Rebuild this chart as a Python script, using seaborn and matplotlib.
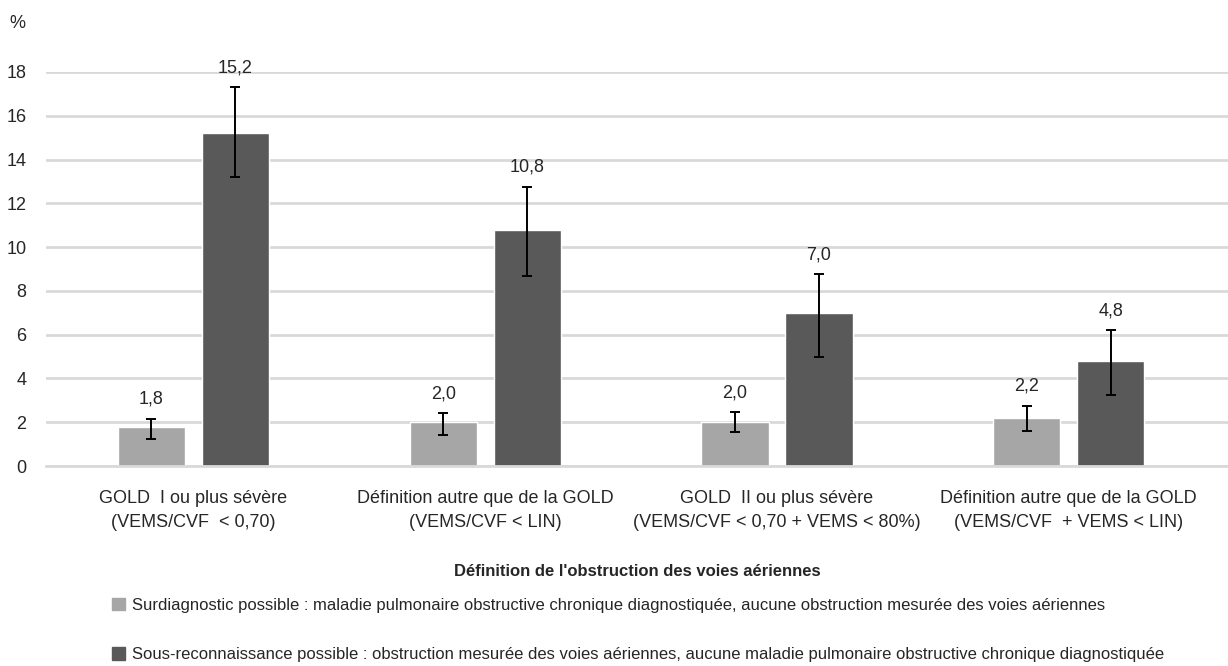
import pandas as pd
import matplotlib.pyplot as plt
import seaborn as sns
from matplotlib.patches import Patch

categories = [
    "GOLD  I ou plus sévère\n(VEMS/CVF  < 0,70)",
    "Définition autre que de la GOLD\n(VEMS/CVF < LIN)",
    "GOLD  II ou plus sévère\n(VEMS/CVF < 0,70 + VEMS < 80%)",
    "Définition autre que de la GOLD\n(VEMS/CVF  + VEMS < LIN)",
]
series = [
    "Surdiagnostic possible : maladie pulmonaire obstructive chronique diagnostiquée, aucune obstruction mesurée des voies aériennes",
    "Sous-reconnaissance possible : obstruction mesurée des voies aériennes, aucune maladie pulmonaire obstructive chronique diagnostiquée",
]
surdiag = [1.8, 2.0, 2.0, 2.2]
surdiag_lo = [1.25, 1.4, 1.55, 1.6]
surdiag_hi = [2.15, 2.4, 2.45, 2.75]
sousrec = [15.2, 10.8, 7.0, 4.8]
sousrec_lo = [13.2, 8.7, 5.0, 3.25]
sousrec_hi = [17.3, 12.75, 8.75, 6.2]
labels = ["1,8", "2,0", "2,0", "2,2"], ["15,2", "10,8", "7,0", "4,8"]

colors = ["#a6a6a6", "#595959"]

df = pd.DataFrame({
    "cat": categories * 2,
    "serie": [series[0]] * 4 + [series[1]] * 4,
    "val": surdiag + sousrec,
})

sns.set_theme(style="white")
plt.rcParams["font.family"] = ["Liberation Sans", "DejaVu Sans"]

fig = plt.figure(figsize=(12.28, 6.66), dpi=100)
ax = fig.add_axes([0.0375, 0.3003, 0.9625, 0.5916])

sns.barplot(data=df, x="cat", y="val", hue="serie", palette=colors,
            width=0.576, gap=0.2, legend=False, ax=ax, saturation=1)

# error bars + value labels on top
lo_all = [surdiag_lo, sousrec_lo]
hi_all = [surdiag_hi, sousrec_hi]
vals_all = [surdiag, sousrec]
bar_conts = list(ax.containers)
for s, cont in enumerate(bar_conts):
    for i, bar in enumerate(cont):
        xc = bar.get_x() + bar.get_width() / 2
        v = vals_all[s][i]
        ax.errorbar(xc, v, yerr=[[v - lo_all[s][i]], [hi_all[s][i] - v]],
                    color="black", lw=1.4, capsize=3.8, capthick=1.4)
        ax.annotate(labels[s][i], (xc, hi_all[s][i]), xytext=(0, 8),
                    textcoords="offset points", ha="center", va="bottom",
                    fontsize=13)

ax.set_xlim(-0.505, 3.546)
ax.set_ylim(0, 18)
ax.set_yticks(range(0, 19, 2))
ax.yaxis.grid(True, color="#d9d9d9", lw=2)
ax.set_axisbelow(True)
for sp in ["top", "right", "left"]:
    ax.spines[sp].set_visible(False)
ax.spines["bottom"].set_color("#d9d9d9")
ax.spines["bottom"].set_linewidth(2)
ax.tick_params(axis="y", labelsize=13, length=0, pad=14)
ax.tick_params(axis="x", labelsize=13, length=0, pad=17)
for t in ax.get_xticklabels():
    t.set_linespacing(1.55)
ax.set_ylabel("")
ax.set_xlabel("Définition de l'obstruction des voies aériennes",
              fontsize=12, fontweight="bold", labelpad=24)

fig.text(0.008, 0.965, "%", fontsize=13, va="center")

handles = [Patch(color=c) for c in colors]
fig.legend(handles, series, loc="upper left", bbox_to_anchor=(0.086, 0.112),
           frameon=False, fontsize=12, handlelength=0.75, handleheight=0.75,
           handletextpad=0.45, labelspacing=2.05, borderaxespad=0)

fig.savefig("out.png", dpi=100)
